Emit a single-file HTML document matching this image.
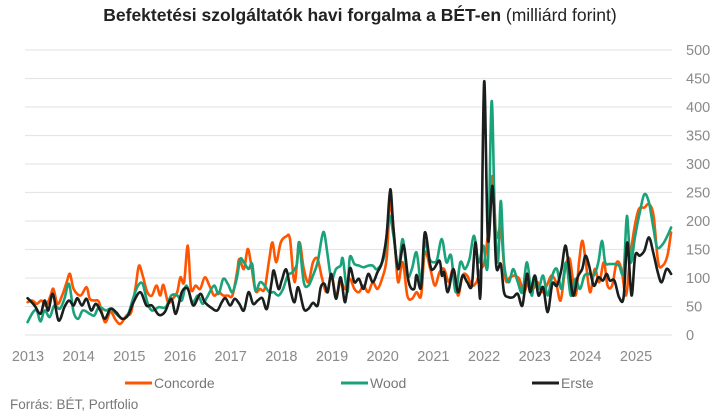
<!DOCTYPE html>
<html><head><meta charset="utf-8"><style>
html,body{margin:0;padding:0;background:#fff;}
body{width:718px;height:415px;overflow:hidden;font-family:"Liberation Sans",sans-serif;}
</style></head><body>
<svg id="s" width="718" height="415" xmlns="http://www.w3.org/2000/svg" font-family="Liberation Sans, sans-serif">
<text x="360" y="21" text-anchor="middle" font-size="17.5" fill="#222"><tspan font-weight="bold">Befektetési szolgáltatók havi forgalma a BÉT-en</tspan> (milliárd forint)</text>
<g id="grid" stroke="#e6e6e6" stroke-width="1.2"></g>
<g id="ylab" font-size="14.5" fill="#8a8a8a"></g>
<g id="xlab" font-size="14.5" fill="#8a8a8a" text-anchor="middle"></g>
<g id="lines" fill="none" stroke-width="2.6" stroke-linejoin="round" stroke-linecap="round"></g>
<g font-size="14" fill="#777">
<line x1="125" y1="383" x2="152" y2="383" stroke="#ff5500" stroke-width="3"/><text x="154" y="388">Concorde</text>
<line x1="341" y1="383" x2="368" y2="383" stroke="#1aa37a" stroke-width="3"/><text x="370" y="388">Wood</text>
<line x1="532" y1="383" x2="559" y2="383" stroke="#1a1f1e" stroke-width="3"/><text x="561" y="388">Erste</text>
<text x="10" y="409" font-size="13.5">Forrás: BÉT, Portfolio</text>
</g>
</svg>
<script>
var NS="http://www.w3.org/2000/svg";
function el(p,t,a,txt){var e=document.createElementNS(NS,t);for(var k in a)e.setAttribute(k,a[k]);if(txt!==undefined)e.textContent=txt;document.getElementById(p).appendChild(e);}
function Y(v){return 335-v*0.57;}
for(var v=0;v<=500;v+=50){el("grid","line",{x1:25,x2:672,y1:Y(v),y2:Y(v)});el("ylab","text",{x:686,y:Y(v)+5},v);}
for(var yr=2013;yr<=2025;yr++){el("xlab","text",{x:28+(yr-2013)*50.67,y:361},yr);}
function parse(s){var a=s.trim().split(/\s+/),p=[];for(var i=0;i<a.length;i++){var q=a[i].split(",");p.push([q[0]*718/1560,30+q[1]*385/1160]);}return p;}
function path(p){var d="M"+p[0][0].toFixed(1)+","+p[0][1].toFixed(1);for(var i=0;i<p.length-1;i++){var p0=p[i-1]||p[i],p1=p[i],p2=p[i+1],p3=p[i+2]||p2;var t=1/6;d+=" C"+(p1[0]+(p2[0]-p0[0])*t).toFixed(1)+","+(p1[1]+(p2[1]-p0[1])*t).toFixed(1)+" "+(p2[0]-(p3[0]-p1[0])*t).toFixed(1)+","+(p2[1]-(p3[1]-p1[1])*t).toFixed(1)+" "+p2[0].toFixed(1)+","+p2[1].toFixed(1);}return d;}
var conc="60,820 70,815 80,825 90,815 100,830 110,800 116,780 125,825 135,800 145,760 152,735 160,780 175,800 188,775 195,810 205,815 215,820 228,880 240,850 252,875 262,885 275,860 285,850 295,770 302,710 310,740 320,790 330,800 340,770 348,800 355,768 365,820 375,810 385,790 392,745 400,760 408,650 415,780 425,770 435,780 445,745 455,770 465,800 475,790 485,800 495,800 505,800 515,730 520,690 530,720 538,660 545,700 555,785 565,780 575,780 585,690 592,640 600,700 610,640 622,622 630,630 640,760 650,640 660,720 670,760 680,700 690,690 700,750 710,790 720,740 730,800 740,760 750,780 760,750 770,780 780,790 790,770 800,790 810,760 820,780 830,750 840,690 848,520 858,650 865,760 875,700 885,800 895,810 905,790 915,800 923,670 935,720 945,770 955,730 965,720 975,760 985,720 995,800 1005,740 1015,740 1025,770 1035,760 1045,720 1052,700 1062,590 1070,440 1078,620 1088,600 1098,750 1108,745 1118,740 1128,750 1138,790 1148,760 1158,780 1168,760 1178,790 1188,770 1198,740 1208,760 1218,815 1228,720 1238,690 1250,800 1258,700 1265,635 1272,690 1282,790 1292,720 1302,760 1312,700 1320,770 1330,770 1340,700 1350,720 1360,800 1368,700 1378,600 1388,540 1400,535 1410,525 1420,560 1430,700 1440,710 1450,680 1458,610";
var wood="60,880 72,850 80,845 88,878 97,845 108,865 118,830 130,840 140,810 150,765 160,850 170,870 180,845 195,855 205,860 215,835 230,845 240,840 252,855 260,865 270,870 280,850 290,805 300,770 310,765 320,820 330,845 345,835 360,835 372,800 385,800 395,815 405,770 418,820 430,800 440,825 450,805 465,770 475,795 485,750 495,765 505,790 515,745 522,690 530,700 540,720 548,705 555,785 565,760 575,770 585,790 595,790 605,800 615,780 625,740 635,730 645,705 650,640 660,760 670,770 680,740 690,700 700,620 705,615 712,680 720,750 730,720 740,710 745,690 755,790 760,685 770,705 780,710 790,715 800,710 810,710 820,720 835,680 845,560 855,620 865,720 875,630 885,740 895,720 905,670 915,760 923,640 933,690 943,700 950,690 960,630 970,700 980,680 990,790 1000,700 1010,720 1020,690 1030,620 1040,700 1050,650 1060,700 1068,215 1075,560 1082,700 1088,515 1095,700 1105,760 1115,720 1125,760 1135,790 1145,700 1155,800 1162,740 1170,780 1180,740 1190,800 1200,740 1210,720 1220,780 1230,700 1240,800 1250,750 1260,780 1270,740 1280,735 1290,740 1300,700 1308,635 1315,700 1325,705 1335,705 1345,710 1355,730 1362,560 1370,700 1380,620 1390,550 1400,495 1410,520 1420,600 1428,655 1440,645 1450,620 1458,595";
var erste="60,808 75,830 88,855 97,815 105,845 115,795 127,875 140,835 150,815 160,830 168,808 178,830 188,810 198,845 208,825 218,845 228,870 240,840 252,850 265,870 278,860 290,820 305,790 318,830 330,830 345,858 358,850 372,810 382,855 395,790 408,780 420,830 435,795 445,820 460,838 472,845 482,820 490,808 500,830 510,810 520,825 530,845 540,790 550,825 560,815 570,808 580,840 590,760 595,725 605,780 612,755 622,722 632,790 640,820 648,775 660,840 670,840 680,822 690,830 697,775 705,765 712,790 720,735 730,810 740,745 750,820 760,718 770,760 780,750 790,780 800,735 810,760 820,730 830,700 840,620 848,480 855,600 865,720 877,648 888,760 900,780 905,738 915,775 923,610 935,710 942,720 955,695 960,740 965,730 973,790 985,720 995,790 1005,740 1015,760 1025,770 1033,640 1040,760 1045,760 1052,155 1060,630 1070,470 1078,710 1088,705 1095,790 1105,805 1115,805 1125,795 1135,830 1145,735 1152,790 1162,740 1170,800 1180,775 1190,850 1200,765 1210,770 1220,720 1228,650 1235,700 1245,800 1255,745 1265,720 1272,680 1280,710 1290,770 1300,745 1310,755 1318,735 1325,755 1335,755 1345,805 1355,805 1363,640 1372,800 1380,680 1390,680 1400,665 1410,625 1420,675 1430,735 1438,760 1448,720 1458,735";
el("lines","path",{d:path(parse(conc)),stroke:"#ff5500"});
el("lines","path",{d:path(parse(wood)),stroke:"#1aa37a"});
el("lines","path",{d:path(parse(erste)),stroke:"#1a1f1e"});
</script>
</body></html>
